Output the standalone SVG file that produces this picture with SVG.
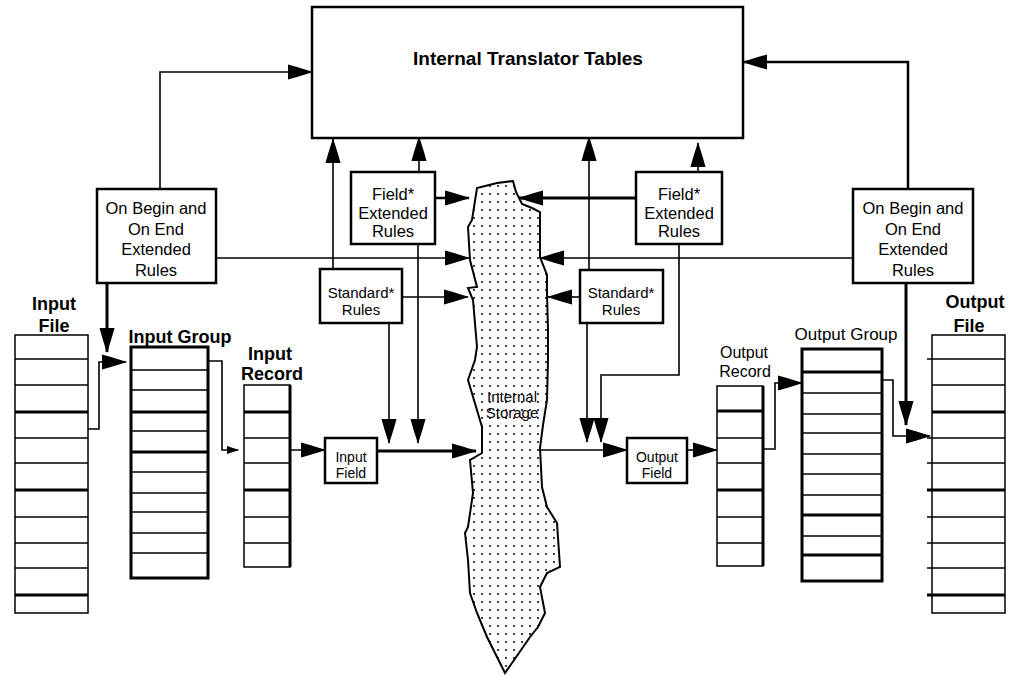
<svg xmlns="http://www.w3.org/2000/svg" width="1019" height="676" viewBox="0 0 1019 676">
<style>
text{font-family:"Liberation Sans",Arial,sans-serif;fill:#000}
.t{font-size:16.5px;text-anchor:middle}
.s{font-size:15px;text-anchor:middle}
.f{font-size:14px;text-anchor:middle}
.b{font-size:18px;font-weight:bold;text-anchor:middle}
.box{fill:#fff;stroke:#000;stroke-width:2.5}
.thin{fill:#fff;stroke:#000;stroke-width:1.5}
.thick{fill:#fff;stroke:#000;stroke-width:3}
.row{stroke:#000;stroke-width:1.5}
.rowb{stroke:#000;stroke-width:3}
.c{fill:none;stroke:#000;stroke-width:1.6}
.cm{fill:none;stroke:#000;stroke-width:2.5}
.cb{fill:none;stroke:#000;stroke-width:3}
</style>
<defs>
<marker id="ah" markerUnits="userSpaceOnUse" viewBox="0 0 25 16" markerWidth="25" markerHeight="16" refX="24" refY="8" orient="auto">
<path d="M0,0.5 L9,3 L25,8 L9,13 L0,15.5 z" fill="#000"/>
</marker>
<marker id="as" markerUnits="userSpaceOnUse" viewBox="0 0 12 8" markerWidth="12" markerHeight="8" refX="11" refY="4" orient="auto">
<path d="M0,0 L12,4 L0,8 z" fill="#000"/>
</marker>
<pattern id="dots" width="8" height="8" patternUnits="userSpaceOnUse">
<rect width="8" height="8" fill="#fff"/>
<circle cx="2" cy="2" r="1" fill="#000"/>
</pattern>
</defs>
<rect width="1019" height="676" fill="#fff"/>

<g id="connectors">
<path class="c" d="M160,189 V72 H312" marker-end="url(#ah)"/>
<path class="cm" d="M908,189 V62 H743" marker-end="url(#ah)"/>
<path class="c" d="M333,269 V139" marker-end="url(#ah)"/>
<path class="c" d="M419,172 V137" marker-end="url(#ah)"/>
<path class="c" d="M589,270 V137" marker-end="url(#ah)"/>
<path class="c" d="M698,172 V143" marker-end="url(#ah)"/>
<path class="cm" d="M435,198 H469" marker-end="url(#ah)"/>
<path class="cb" d="M636,198 H519" marker-end="url(#ah)"/>
<path class="c" d="M216,258 H469" marker-end="url(#ah)"/>
<path class="c" d="M853,258 H540" marker-end="url(#ah)"/>
<path class="c" d="M402,297 H468" marker-end="url(#ah)"/>
<path class="c" d="M580,297 H548" marker-end="url(#ah)"/>
<path class="c" d="M389,323 V443" marker-end="url(#ah)"/>
<path class="c" d="M418,244 V443" marker-end="url(#ah)"/>
<path class="c" d="M587,323 V442" marker-end="url(#ah)"/>
<path class="c" d="M679,244 V375 H601 V442" marker-end="url(#ah)"/>
<path class="cb" d="M107,283 V352" marker-end="url(#ah)"/>
<path class="c" d="M88,429 H99 V362 H126" marker-end="url(#ah)"/>
<path class="c" d="M208,361 H222 V450 H238" marker-end="url(#as)"/>
<path class="c" d="M290,450 H325" marker-end="url(#ah)"/>
<path class="cb" d="M377,451 H476" marker-end="url(#ah)"/>
<path class="c" d="M541,450 H627" marker-end="url(#ah)"/>
<path class="c" d="M687,450 H717" marker-end="url(#ah)"/>
<path class="c" d="M763,449 H775 V383 H802" marker-end="url(#ah)"/>
<path class="c" d="M882,380 H893 V436 H930" marker-end="url(#ah)"/>
<path class="cb" d="M906,283 V425" marker-end="url(#ah)"/>
</g>

<g id="translator-tables">
<rect x="312" y="7" width="431" height="131" class="box"/>
<text x="528" y="65" class="b" style="font-size:19px">Internal Translator Tables</text>
</g>

<g id="on-begin-left">
<rect x="97" y="189" width="119" height="94" class="box"/>
<text x="156" y="214" class="t">On Begin and</text>
<text x="156" y="235" class="t">On End</text>
<text x="156" y="255" class="t">Extended</text>
<text x="156" y="276" class="t">Rules</text>
</g>

<g id="on-begin-right">
<rect x="853" y="189" width="120" height="94" class="box"/>
<text x="913" y="214" class="t">On Begin and</text>
<text x="913" y="235" class="t">On End</text>
<text x="913" y="255" class="t">Extended</text>
<text x="913" y="276" class="t">Rules</text>
</g>

<g id="field-rules-left">
<rect x="351" y="172" width="84" height="72" class="box"/>
<text x="393" y="200" class="t">Field*</text>
<text x="393" y="219" class="t">Extended</text>
<text x="393" y="237" class="t">Rules</text>
</g>

<g id="field-rules-right">
<rect x="636" y="172" width="86" height="72" class="box"/>
<text x="679" y="200" class="t">Field*</text>
<text x="679" y="219" class="t">Extended</text>
<text x="679" y="237" class="t">Rules</text>
</g>

<g id="standard-rules-left">
<rect x="320" y="269" width="82" height="54" class="box"/>
<text x="361" y="298" class="s">Standard*</text>
<text x="361" y="315" class="s">Rules</text>
</g>

<g id="standard-rules-right">
<rect x="580" y="270" width="83" height="53" class="box"/>
<text x="621" y="298" class="s">Standard*</text>
<text x="621" y="315" class="s">Rules</text>
</g>

<g id="internal-storage">
<polygon fill="url(#dots)" stroke="#000" stroke-width="2" points="497,183 513,181 516,192 522,204 532,208 540,212 540,257 547,275 547,293 548,330 548,360 547,400 543,425 540,448 542,487 547,507 557,523 560,567 547,573 540,587 545,613 538,627 530,637 505,673 487,637 477,613 470,593 468,560 465,533 468,527 473,493 470,460 482,453 482,427 468,380 475,360 477,347 473,300 468,288 477,287 470,260 468,227 472,220 477,188"/>
<text x="512" y="402" class="f" style="font-size:15px">Internal</text>
<text x="512" y="418" class="f" style="font-size:15px">Storage</text>
</g>

<g id="input-field">
<rect x="325" y="438" width="52" height="45" class="box"/>
<text x="351" y="462" class="f">Input</text>
<text x="351" y="478" class="f">Field</text>
</g>

<g id="output-field">
<rect x="627" y="438" width="60" height="45" class="box"/>
<text x="657" y="462" class="f">Output</text>
<text x="657" y="478" class="f">Field</text>
</g>

<g id="input-file">
<text x="54" y="310" class="b">Input</text>
<text x="54" y="332" class="b">File</text>
<rect x="15" y="335" width="73" height="278" class="thin"/>
<line x1="15" y1="359" x2="88" y2="359" class="row"/>
<line x1="15" y1="385" x2="88" y2="385" class="row"/>
<line x1="15" y1="412" x2="88" y2="412" class="rowb"/>
<line x1="15" y1="438" x2="88" y2="438" class="row"/>
<line x1="15" y1="463" x2="88" y2="463" class="row"/>
<line x1="15" y1="490" x2="88" y2="490" class="rowb"/>
<line x1="15" y1="517" x2="88" y2="517" class="row"/>
<line x1="15" y1="543" x2="88" y2="543" class="row"/>
<line x1="15" y1="568" x2="88" y2="568" class="row"/>
<line x1="15" y1="595" x2="88" y2="595" class="rowb"/>
</g>

<g id="input-group">
<text x="180" y="343" class="b">Input Group</text>
<rect x="131" y="347" width="77" height="231" class="thick"/>
<line x1="131" y1="370" x2="208" y2="370" class="row"/>
<line x1="131" y1="390" x2="208" y2="390" class="row"/>
<line x1="131" y1="412" x2="208" y2="412" class="rowb"/>
<line x1="131" y1="431" x2="208" y2="431" class="row"/>
<line x1="131" y1="452" x2="208" y2="452" class="rowb"/>
<line x1="131" y1="472" x2="208" y2="472" class="row"/>
<line x1="131" y1="493" x2="208" y2="493" class="row"/>
<line x1="131" y1="512" x2="208" y2="512" class="row"/>
<line x1="131" y1="533" x2="208" y2="533" class="row"/>
<line x1="131" y1="553" x2="208" y2="553" class="row"/>
</g>

<g id="input-record">
<text x="270" y="360" class="b">Input</text>
<text x="272" y="380" class="b">Record</text>
<rect x="244" y="385" width="46" height="182" class="thin"/>
<line x1="290" y1="385" x2="290" y2="567" class="rowb"/>
<line x1="244" y1="412" x2="290" y2="412" class="rowb"/>
<line x1="244" y1="438" x2="290" y2="438" class="row"/>
<line x1="244" y1="463" x2="290" y2="463" class="row"/>
<line x1="244" y1="490" x2="290" y2="490" class="rowb"/>
<line x1="244" y1="517" x2="290" y2="517" class="row"/>
<line x1="244" y1="543" x2="290" y2="543" class="row"/>
</g>

<g id="output-record">
<text x="744" y="358" class="t" style="font-size:16px">Output</text>
<text x="745" y="377" class="t" style="font-size:16px">Record</text>
<rect x="717" y="386" width="46" height="180" class="thin"/>
<line x1="763" y1="386" x2="763" y2="566" class="rowb"/>
<line x1="717" y1="411" x2="763" y2="411" class="rowb"/>
<line x1="717" y1="438" x2="763" y2="438" class="row"/>
<line x1="717" y1="463" x2="763" y2="463" class="row"/>
<line x1="717" y1="490" x2="763" y2="490" class="rowb"/>
<line x1="717" y1="517" x2="763" y2="517" class="row"/>
<line x1="717" y1="543" x2="763" y2="543" class="row"/>
</g>

<g id="output-group">
<text x="846" y="340" class="t" style="font-size:17px">Output Group</text>
<rect x="802" y="349" width="80" height="232" class="thick"/>
<line x1="802" y1="372" x2="882" y2="372" class="rowb"/>
<line x1="802" y1="393" x2="882" y2="393" class="row"/>
<line x1="802" y1="414" x2="882" y2="414" class="row"/>
<line x1="802" y1="433" x2="882" y2="433" class="row"/>
<line x1="802" y1="454" x2="882" y2="454" class="row"/>
<line x1="802" y1="474" x2="882" y2="474" class="row"/>
<line x1="802" y1="495" x2="882" y2="495" class="row"/>
<line x1="802" y1="515" x2="882" y2="515" class="rowb"/>
<line x1="802" y1="536" x2="882" y2="536" class="row"/>
<line x1="802" y1="555" x2="882" y2="555" class="rowb"/>
</g>

<g id="output-file">
<text x="975" y="308" class="b">Output</text>
<text x="969" y="332" class="b">File</text>
<rect x="932" y="335" width="73" height="278" class="thin"/>
<line x1="927" y1="359" x2="1005" y2="359" class="row"/>
<line x1="932" y1="385" x2="1005" y2="385" class="row"/>
<line x1="932" y1="412" x2="1005" y2="412" class="rowb"/>
<line x1="927" y1="438" x2="1005" y2="438" class="row"/>
<line x1="927" y1="463" x2="1005" y2="463" class="row"/>
<line x1="927" y1="490" x2="1005" y2="490" class="rowb"/>
<line x1="927" y1="517" x2="1005" y2="517" class="row"/>
<line x1="927" y1="543" x2="1005" y2="543" class="row"/>
<line x1="927" y1="568" x2="1005" y2="568" class="row"/>
<line x1="927" y1="595" x2="1005" y2="595" class="rowb"/>
</g>
</svg>
